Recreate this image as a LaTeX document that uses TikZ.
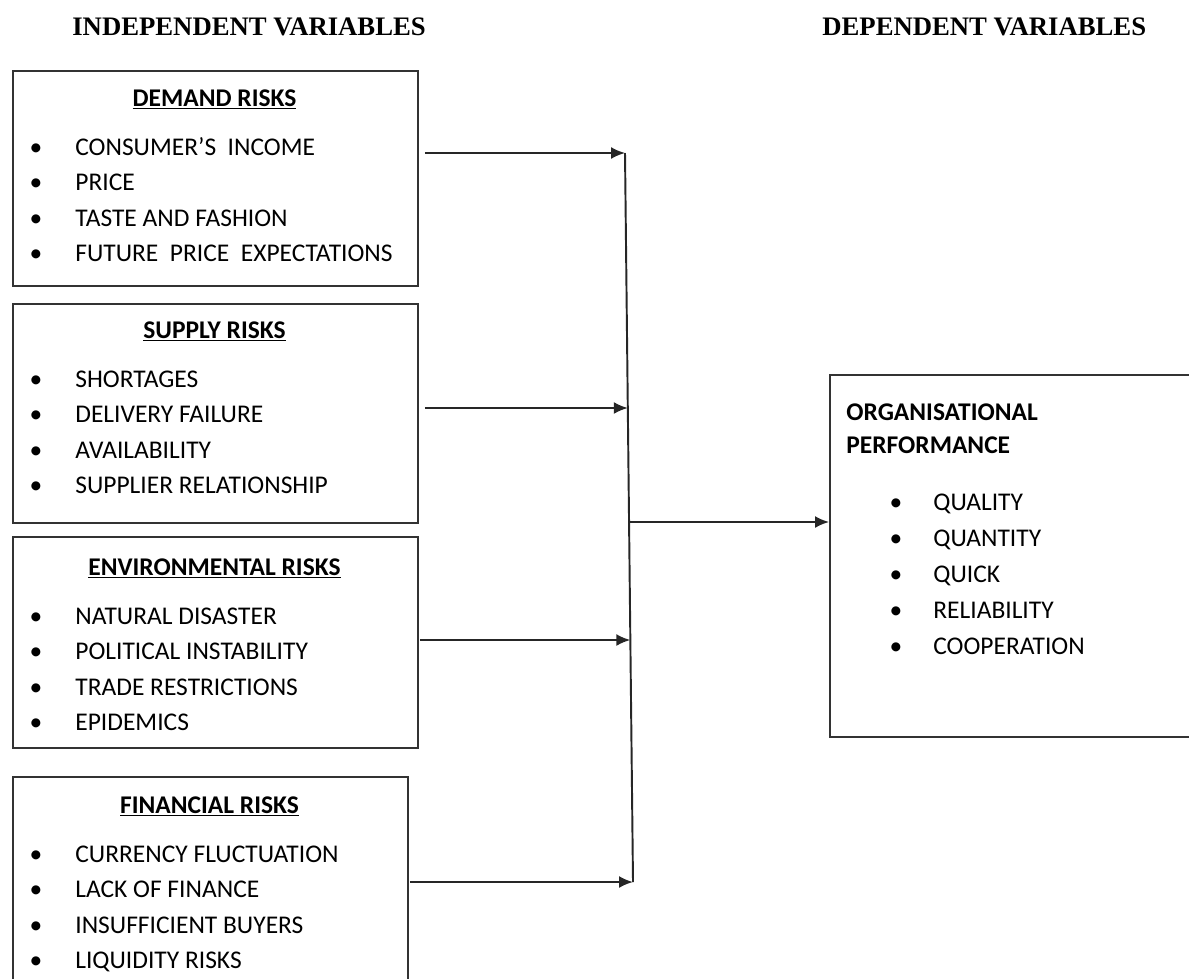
\documentclass[tikz,border=0pt]{standalone}
\usepackage{fontspec}
\setmainfont{Carlito}
\newfontfamily\headfont{Liberation Serif}
\usetikzlibrary{positioning,arrows.meta}
\definecolor{boxline}{HTML}{333333}

\begin{document}
\begin{tikzpicture}[x=0.02cm, y=-0.02cm,
  riskbox/.style={draw=boxline, line width=1.1pt, anchor=north west, inner sep=0pt},
  txt/.style={font=\fontsize{14.5}{17}\selectfont, inner sep=0pt, anchor=base west},
  head/.style={font=\fontsize{14.5}{17}\selectfont\bfseries, inner sep=0pt, anchor=base},
  dot/.style={txt, anchor=base},
  var/.style={font=\headfont\bfseries\fontsize{15.2}{18}\selectfont, inner sep=0pt, anchor=base west},
  bus/.style={draw=black!85, line width=1.1pt},
  flow/.style={bus, -{Latex[length=0.28cm,width=0.24cm]}}]
  \useasboundingbox (0,0) rectangle (1189,978);

  \node[var] (indep) at (72,35) {INDEPENDENT VARIABLES};
  \node[var] (dep) at (822,35) {DEPENDENT VARIABLES};

  \node[riskbox, minimum width=8.1cm, minimum height=4.3cm] (demand) at (12,70) {};
  \node[head] (demandT) at (214.5,106) {\underline{DEMAND RISKS}};
  \foreach \t [count=\k] in {CONSUMER’S~ INCOME, PRICE, TASTE AND FASHION, FUTURE~ PRICE~ EXPECTATIONS}
  {
    \node[dot] (dd\k) at (36,119.5+35.5*\k) {\textbullet};
    \node[txt] (d\k) at (75,119.5+35.5*\k) {\t};
  }

  \node[riskbox, minimum width=8.1cm, minimum height=4.38cm] (supply) at (12,303) {};
  \node[head] (supplyT) at (214.5,338) {\underline{SUPPLY RISKS}};
  \foreach \t [count=\k] in {SHORTAGES, DELIVERY FAILURE, AVAILABILITY, SUPPLIER RELATIONSHIP}
  {
    \node[dot] (sd\k) at (36,351.5+35.5*\k) {\textbullet};
    \node[txt] (s\k) at (75,351.5+35.5*\k) {\t};
  }

  \node[riskbox, minimum width=8.1cm, minimum height=4.22cm] (env) at (12,536) {};
  \node[head] (envT) at (214.5,575) {\underline{ENVIRONMENTAL RISKS}};
  \foreach \t [count=\k] in {NATURAL DISASTER, POLITICAL INSTABILITY, TRADE RESTRICTIONS, EPIDEMICS}
  {
    \node[dot] (ed\k) at (36,588.5+35.5*\k) {\textbullet};
    \node[txt] (e\k) at (75,588.5+35.5*\k) {\t};
  }

  \node[riskbox, minimum width=7.9cm, minimum height=4.6cm] (fin) at (12,776) {};
  \node[head] (finT) at (209.5,813) {\underline{FINANCIAL RISKS}};
  \foreach \t [count=\k] in {CURRENCY FLUCTUATION, LACK OF FINANCE, INSUFFICIENT BUYERS, LIQUIDITY RISKS}
  {
    \node[dot] (fd\k) at (36,826.5+35.5*\k) {\textbullet};
    \node[txt] (f\k) at (75,826.5+35.5*\k) {\t};
  }

  \node[riskbox, minimum width=7.5cm, minimum height=7.24cm] (org) at (829,374) {};
  \node[txt, font=\fontsize{14.5}{17}\selectfont\bfseries] (orgT1) at (846,420) {ORGANISATIONAL};
  \node[txt, font=\fontsize{14.5}{17}\selectfont\bfseries] (orgT2) at (846,453) {PERFORMANCE};
  \foreach \t [count=\k] in {QUALITY, QUANTITY, QUICK, RELIABILITY, COOPERATION}
  {
    \node[dot] (od\k) at (896,474+36*\k) {\textbullet};
    \node[txt] (o\k) at (933,474+36*\k) {\t};
  }

  \coordinate (b1) at (625,153);
  \coordinate (b2) at (627.8,408);
  \coordinate (bm) at (629,522);
  \coordinate (b3) at (630.3,640);
  \coordinate (b4) at (633,882);
  \draw[bus] (b1) -- (b4);
  \draw[flow, shorten <=0.12cm] (demand.east |- b1) -- (b1);
  \draw[flow, shorten <=0.12cm] (supply.east |- b2) -- (b2);
  \draw[flow, shorten <=0.02cm] (env.east |- b3) -- (b3);
  \draw[flow, shorten <=0.02cm] (fin.east |- b4) -- (b4);
  \draw[flow] (bm) -- (org.west |- bm);
\end{tikzpicture}
\end{document}
